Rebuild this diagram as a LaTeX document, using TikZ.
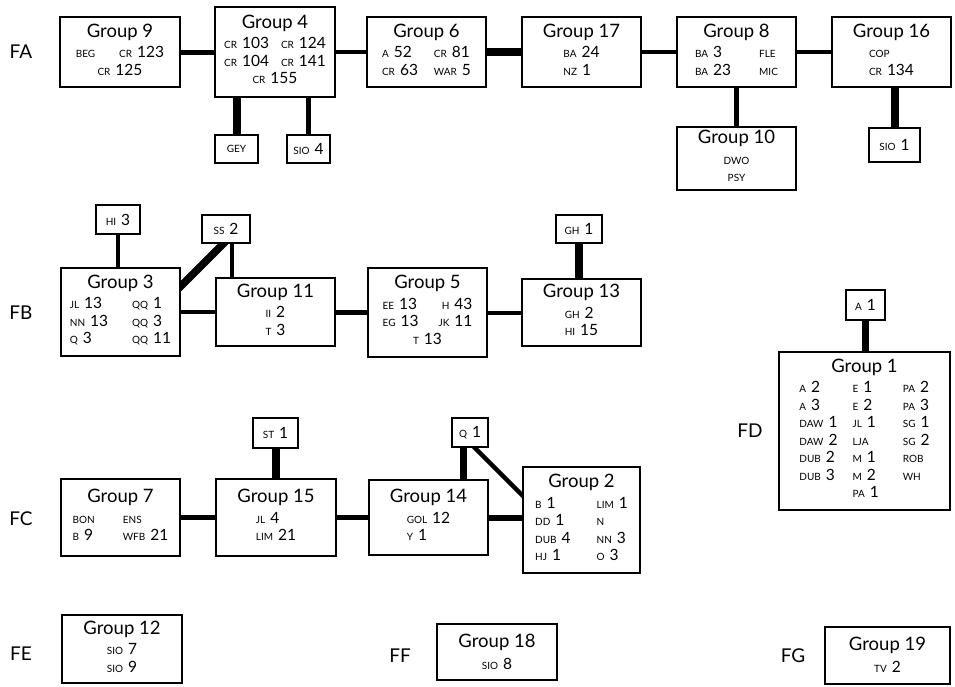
\documentclass[tikz,border=0pt]{standalone}
\usepackage{fontspec}
\setmainfont{Lato}
\usetikzlibrary{backgrounds}
\newcommand\sm[1]{{\fontsize{10}{10}\selectfont #1}}
\newcommand\ent[2]{\sm{#1}\hspace{5pt}#2}
\newcommand\gt[1]{{\fontsize{18.5}{20}\selectfont #1}\\[4pt]}
\begin{document}
\begin{tikzpicture}[x=1pt,y=-1pt,
  box/.style 2 args={draw, line width=2pt, fill=white, inner sep=0pt, align=center,
    minimum width=#1pt, minimum height=#2pt, font=\fontsize{15.5}{17.5}\selectfont},
  lab/.style={font=\fontsize{19}{20}\selectfont, inner sep=0pt},
  lw/.style={line width=#1pt, line cap=butt}]
\useasboundingbox (0,0) rectangle (955,686);

% ---------- row FA ----------
\node[lab] (fa) at (21,52) {FA};
\node[box={120}{70}] (g9) at (120,52) {\gt{Group 9}\begin{tabular}{@{}l@{\hspace{24pt}}r@{}}\sm{BEG} & \ent{CR}{123}\\ \multicolumn{2}{c}{\ent{CR}{125}}\end{tabular}};
\node[box={120}{90}] (g4) at (275,52) {\gt{Group 4}\begin{tabular}{@{}l@{\hspace{12pt}}l@{}}\ent{CR}{103} & \ent{CR}{124}\\ \ent{CR}{104} & \ent{CR}{141}\\ \multicolumn{2}{c}{\ent{CR}{155}}\end{tabular}};
\node[box={43}{28}] (gey) at (236.5,149) {\sm{GEY}};
\node[box={43}{28}] (sio4) at (308.5,149) {\ent{SIO}{4}};
\node[box={119}{70}] (g6) at (426.5,52) {\gt{Group 6}\begin{tabular}{@{}l@{\hspace{16pt}}l@{}}\ent{A}{52} & \ent{CR}{81}\\ \ent{CR}{63} & \ent{WAR}{5}\end{tabular}};
\node[box={119}{70}] (g17) at (581.5,52) {\gt{Group 17}\begin{tabular}{@{}l@{}}\ent{BA}{24}\\ \ent{NZ}{1}\end{tabular}};
\node[box={119}{70}] (g8) at (736.5,52) {\gt{Group 8}\begin{tabular}{@{}l@{\hspace{28pt}}l@{}}\ent{BA}{3} & \sm{FLE}\\ \ent{BA}{23} & \sm{MIC}\end{tabular}};
\node[box={119}{70}] (g16) at (891.5,52) {\gt{Group 16}\begin{tabular}{@{}l@{}}\sm{COP}\\ \ent{CR}{134}\end{tabular}};
\node[box={119}{63}] (g10) at (736.5,158.5) {\gt{Group 10}\begin{tabular}{@{}c@{}}\sm{DWO}\\ \sm{PSY}\end{tabular}};
\node[box={51}{34}] (sio1) at (894.5,145) {\ent{SIO}{1}};

% ---------- row FB ----------
\node[lab] (fb) at (21,313) {FB};
\node[box={44}{29}] (hi3) at (118,219.5) {\ent{HI}{3}};
\node[box={48}{28}] (ss2) at (226,229) {\ent{SS}{2}};
\node[box={119}{88}] (g3) at (120.5,312) {\gt{Group 3}\begin{tabular}{@{}l@{\hspace{24pt}}l@{}}\ent{JL}{13} & \ent{QQ}{1}\\ \ent{NN}{13} & \ent{QQ}{3}\\ \ent{Q}{3} & \ent{QQ}{11}\end{tabular}};
\node[box={119}{68}] (g11) at (275.5,312) {\gt{Group 11}\begin{tabular}{@{}l@{}}\ent{II}{2}\\ \ent{T}{3}\end{tabular}};
\node[box={119}{89}] (g5) at (427.5,312.5) {\gt{Group 5}\begin{tabular}{@{}l@{\hspace{20pt}}r@{}}\ent{EE}{13} & \ent{H}{43}\\ \ent{EG}{13} & \ent{JK}{11}\\ \multicolumn{2}{c}{\ent{T}{13}}\end{tabular}};
\node[box={119}{67}] (g13) at (581.5,312.5) {\gt{Group 13}\begin{tabular}{@{}l@{}}\ent{GH}{2}\\ \ent{HI}{15}\end{tabular}};
\node[box={46}{28}] (gh1) at (579,229) {\ent{GH}{1}};

% ---------- FD ----------
\node[lab] (fd) at (750,431) {FD};
\node[box={39}{30}] (a1) at (865.5,305) {\ent{A}{1}};
\node[box={171}{158}] (g1) at (864.5,431) {\gt{Group 1}\begin{tabular}{@{}l@{\hspace{15pt}}l@{\hspace{24pt}}l@{}}\ent{A}{2} & \ent{E}{1} & \ent{PA}{2}\\ \ent{A}{3} & \ent{E}{2} & \ent{PA}{3}\\ \ent{DAW}{1} & \ent{JL}{1} & \ent{SG}{1}\\ \ent{DAW}{2} & \sm{LJA} & \ent{SG}{2}\\ \ent{DUB}{2} & \ent{M}{1} & \sm{ROB}\\ \ent{DUB}{3} & \ent{M}{2} & \sm{WH}\\ & \ent{PA}{1} & \end{tabular}};

% ---------- row FC ----------
\node[lab] (fc) at (21,519) {FC};
\node[box={45}{30}] (st1) at (275.5,433) {\ent{ST}{1}};
\node[box={119}{77}] (g7) at (120.5,517.5) {\gt{Group 7}\begin{tabular}{@{}l@{\hspace{28pt}}l@{}}\sm{BON} & \sm{ENS}\\ \ent{B}{9} & \ent{WFB}{21}\end{tabular}};
\node[box={120}{77}] (g15) at (276,517.5) {\gt{Group 15}\begin{tabular}{@{}l@{}}\ent{JL}{4}\\ \ent{LIM}{21}\end{tabular}};
\node[box={119}{75}] (g14) at (428.5,517.5) {\gt{Group 14}\begin{tabular}{@{}l@{}}\ent{GOL}{12}\\ \ent{Y}{1}\end{tabular}};
\node[box={36}{29}] (q1) at (470,432.5) {\ent{Q}{1}};
\node[box={117}{106}] (g2) at (581.5,520) {\gt{Group 2}\begin{tabular}{@{}l@{\hspace{26pt}}l@{}}\ent{B}{1} & \ent{LIM}{1}\\ \ent{DD}{1} & \sm{N}\\ \ent{DUB}{4} & \ent{NN}{3}\\ \ent{HJ}{1} & \ent{O}{3}\end{tabular}};

% ---------- rows FE FF FG ----------
\node[lab] (fe) at (21,654) {FE};
\node[box={120}{68}] (g12) at (122,649) {\gt{Group 12}\begin{tabular}{@{}c@{}}\ent{SIO}{7}\\ \ent{SIO}{9}\end{tabular}};
\node[lab] (ff) at (400,656) {FF};
\node[box={120}{56}] (g18) at (497,652) {\gt{Group 18}\ent{SIO}{8}};
\node[lab] (fg) at (793,656) {FG};
\node[box={125}{57}] (g19) at (887.5,655) {\gt{Group 19}\ent{TV}{2}};

% ---------- connectors ----------
\begin{scope}[on background layer]
\draw[lw=5] (g9) -- (g4);
\draw[lw=3.5] (g4) -- (g6);
\draw[lw=8] (g6) -- (g17);
\draw[lw=3.5] (g17) -- (g8);
\draw[lw=4] (g8) -- (g16);
\draw[lw=8] (gey) -- (gey |- g4);
\draw[lw=5] (sio4) -- (sio4 |- g4);
\draw[lw=4.5] (g10) -- (g10 |- g8);
\draw[lw=8] (sio1) -- (sio1 |- g16);
\draw[lw=4.5] (hi3) -- (hi3 |- g3);
\draw[lw=7.5, shorten <=-8pt, shorten >=-8pt] ([yshift=-19pt]g3.north east) -- ([xshift=-3pt]ss2.south);
\draw[lw=4] ([xshift=6pt]ss2.center) -- ([xshift=6pt]ss2.center |- g11.center);
\draw[lw=4] (g3) -- (g3 -| g11);
\draw[lw=5] (g11) -- (g11 -| g5);
\draw[lw=4] (g5) -- (g5 -| g13);
\draw[lw=8] (gh1) -- (gh1 |- g13);
\draw[lw=6.5] (a1) -- (a1 |- g1);
\draw[lw=8] (st1) -- (st1 |- g15);
\draw[lw=4.5] (g7) -- (g15);
\draw[lw=4.5] (g15) -- (g14);
\draw[lw=7] ([xshift=-7pt]q1.center) -- ([xshift=-7pt]q1.center |- g14.center);
\draw[lw=4.5, shorten <=-6pt, shorten >=-6pt] ([xshift=5pt]q1.south) -- ([yshift=-29pt]g2.north west);
\draw[lw=6] (g14) -- (g14 -| g2);
\end{scope}
\end{tikzpicture}
\end{document}
